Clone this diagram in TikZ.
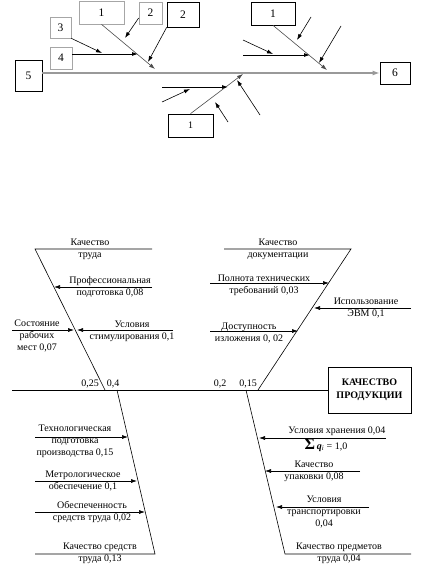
\documentclass[tikz,border=0pt]{standalone}
\usepackage{fontspec}
\setmainfont{Liberation Serif}
\usetikzlibrary{arrows.meta,calc}
\newcommand\labfont{\fontsize{10}{12}\selectfont}
\begin{document}
\begin{tikzpicture}[x=1pt,y=-1pt,
  ln/.style={line width=0.6pt},
  ar/.style={ln,-{Latex[length=6pt,width=4pt]}},
  thk/.style={line width=0.9pt,-{Latex[length=6pt,width=4pt]}},
  spine/.style={line width=1.2pt,draw=gray!80},
  lbl/.style={font=\labfont,align=center,inner sep=0pt},
  box/.style={draw,line width=0.7pt,inner sep=0pt,font=\fontsize{11.5}{13}\selectfont},
  gbox/.style={box,draw=gray!70},
  bigbox/.style={draw,line width=0.7pt,inner sep=0pt,align=center,font=\fontsize{10}{12.5}\selectfont\bfseries}]
\useasboundingbox (0,0) rectangle (422,570);

% ---------------- top diagram ----------------
\node[box,minimum width=27pt,minimum height=31pt] (b5) at (28.5,75.5) {5};
\node[gbox,minimum width=22pt,minimum height=22pt] (b4) at (61,58) {4};
\node[gbox,minimum width=21pt,minimum height=21pt] (b3) at (60.5,27.5) {3};
\node[gbox,minimum width=45pt,minimum height=23pt] (b1a) at (101.5,12.5) {1};
\node[gbox,minimum width=23pt,minimum height=22pt] (b2a) at (150.5,13) {2};
\node[box,minimum width=32pt,minimum height=25pt] (b2b) at (183,14.5) {2};
\node[box,minimum width=44pt,minimum height=23pt] (b1b) at (273,13.5) {1};
\node[box,minimum width=30pt,minimum height=22pt] (b6) at (395,73) {6};
\node[box,minimum width=45pt,minimum height=23pt,font=\fontsize{10}{12}\selectfont] (b1c) at (190.5,125.5) {1};

\draw[spine,-{Latex[length=7pt,width=5pt]}] (b5.east |- b6.west) -- (b6.west);

\coordinate (t1) at (155,69);
\coordinate (t4) at (138,54);
\coordinate (t3) at (102,53);
\coordinate (t2a) at (125,38);
\coordinate (t2b) at (148,62);
\draw[ar,draw=gray!60!black] (b1a.south) -- (t1);
\draw[thk] (b4.east |- t4) -- (t4);
\draw[ar] (b3.south east) -- (t3);
\draw[ar] ($(b2a.west)+(0,5)$) -- (t2a);
\draw[ar] (b2b.south west) -- (t2b);

\coordinate (t5) at (327,70);
\coordinate (h2s) at (243,55);
\coordinate (h2e) at (310,55);
\coordinate (a1s) at (243,40);
\coordinate (a1e) at (273,54);
\coordinate (a2s) at (311,17);
\coordinate (a2e) at (297,40);
\coordinate (a3s) at (341,26);
\coordinate (a3e) at (319,63);
\draw[ar,draw=gray!60!black] (b1b.south) -- (t5);
\draw[thk] (h2s) -- (h2e);
\draw[ar] (a1s) -- (a1e);
\draw[ar] (a2s) -- (a2e);
\draw[ar] (a3s) -- (a3e);

\coordinate (t6) at (243,74);
\coordinate (h3s) at (162,87);
\coordinate (h3e) at (228,87);
\coordinate (c1s) at (162,102);
\coordinate (c1e) at (190,89);
\coordinate (c2s) at (228,122);
\coordinate (c2e) at (215,102);
\coordinate (c3s) at (260,115);
\coordinate (c3e) at (237,80);
\draw[ar,draw=gray!60!black] (b1c.north) -- (t6);
\draw[thk] (h3s) -- (h3e);
\draw[ar] (c1s) -- (c1e);
\draw[ar] (c2s) -- (c2e);
\draw[ar] (c3s) -- (c3e);

% ---------------- bottom diagram ----------------
\node[bigbox,minimum width=83pt,minimum height=46pt] (kp) at (369.5,390) {КАЧЕСТВО\\ПРОДУКЦИИ};
\coordinate (s0) at (12,390);
\draw[ln] (s0) -- (kp.west);

% bones
\coordinate (ul0) at (152,249);
\coordinate (ul1) at (35,249);
\coordinate (ul2) at (105,390);
\coordinate (ll0) at (117,390);
\coordinate (ll1) at (155,554);
\coordinate (ll2) at (35,554);
\coordinate (ur0) at (224,249);
\coordinate (ur1) at (351,249);
\coordinate (ur2) at (258,390);
\coordinate (lr0) at (246,390);
\coordinate (lr1) at (285,554);
\coordinate (lr2) at (411,554);
\draw[ln] (ul0) -- (ul1) -- (ul2);
\draw[ln] (ll0) -- (ll1) -- (ll2);
\draw[ln] (ur0) -- (ur1) -- (ur2);
\draw[ln] (lr0) -- (lr1) -- (lr2);

% arrows
\coordinate (p1s) at (152,287); \coordinate (p1e) at (54,287);
\coordinate (p2s) at (173,330); \coordinate (p2e) at (77,330);
\coordinate (p3s) at (12,330);  \coordinate (p3e) at (74,330);
\coordinate (q1s) at (210,283); \coordinate (q1e) at (329,283);
\coordinate (q2s) at (411,308); \coordinate (q2e) at (314,308);
\coordinate (q3s) at (210,331); \coordinate (q3e) at (298,331);
\coordinate (r1s) at (35,437);  \coordinate (r1e) at (128,437);
\coordinate (r2s) at (35,481);  \coordinate (r2e) at (137,481);
\coordinate (r3s) at (35,512);  \coordinate (r3e) at (145,512);
\coordinate (u1s) at (386,438); \coordinate (u1e) at (259,438);
\coordinate (u2s) at (360,471); \coordinate (u2e) at (265,471);
\coordinate (u3s) at (369,507); \coordinate (u3e) at (276,507);
\foreach \a in {p1,p2,p3,q1,q2,q3,r1,r2,r3,u1,u2,u3}
  \draw[ar] (\a s) -- (\a e);

% labels
\node[lbl] (L1) at (90,249) {Качество\\труда};
\node[lbl] (L2) at (110,286.5) {Профессиональная\\подготовка 0,08};
\node[lbl] (L3) at (132,331) {Условия\\стимулирования 0,1};
\node[lbl] (L4) at (37,336) {Состояние\\рабочих\\мест 0,07};
\node[lbl] (R1) at (278,249) {Качество\\документации};
\node[lbl] (R2) at (264,285.5) {Полнота технических\\требований 0,03};
\node[lbl] (R3) at (366,307.5) {Использование\\ЭВМ 0,1};
\node[lbl] (R4) at (249,332.5) {Доступность\\изложения 0, 02};
\node[lbl] (n1) at (90,384) {0,25};
\node[lbl] (n2) at (113,384) {0,4};
\node[lbl] (n3) at (220,384) {0,2};
\node[lbl] (n4) at (248,384) {0,15};
\node[lbl] (B1) at (75,441) {Технологическая\\подготовка\\производства 0,15};
\node[lbl] (B2) at (83,480.5) {Метрологическое\\обеспечение 0,1};
\node[lbl] (B3) at (92,511.5) {Обеспеченность\\средств труда 0,02};
\node[lbl] (B4) at (100,553) {Качество средств\\труда 0,13};
\node[lbl] (C1) at (337,431) {Условия хранения 0,04};
\node[lbl] (C0) at (326,445) {{\fontsize{16}{16}\selectfont\bfseries Σ}\,{\bfseries\itshape q}\textsubscript{\itshape i}~= 1,0};
\node[lbl] (C2) at (314,471) {Качество\\упаковки 0,08};
\node[lbl] (C3) at (324,512) {Условия\\транспортировки\\0,04};
\node[lbl] (C4) at (339,553.5) {Качество предметов\\труда 0,04};
\end{tikzpicture}
\end{document}
